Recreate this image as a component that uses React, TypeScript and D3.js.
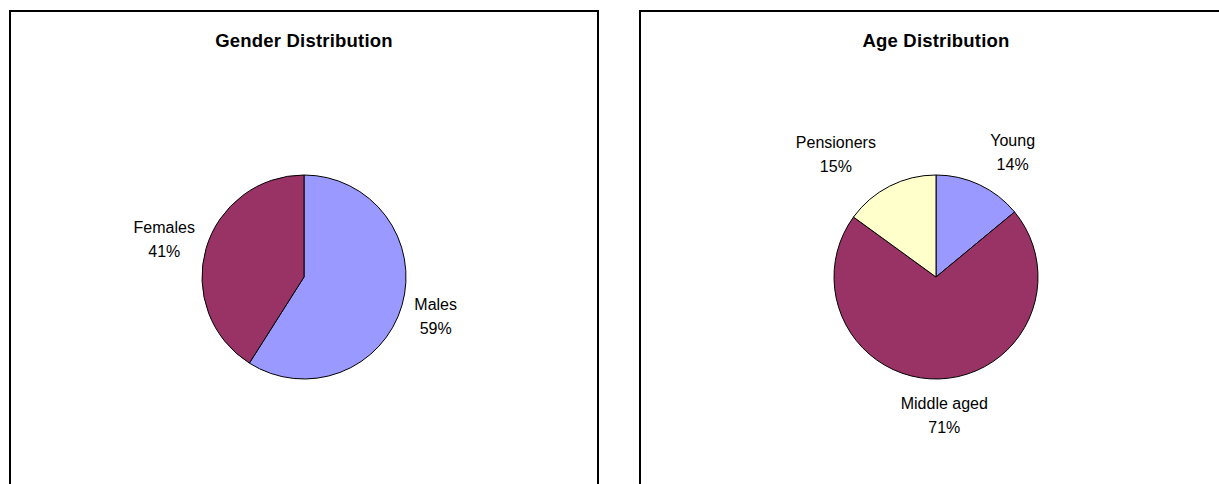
import React from 'react';
import * as d3 from 'd3';

// chart values
const genderLabels = ['Males', 'Females'];
const genderValues = [59, 41];
const ageLabels = ['Young', 'Middle aged', 'Pensioners'];
const ageValues = [14, 71, 15];
const titles = ['Gender Distribution', 'Age Distribution'];

const W = 1219;
const H = 484;
const FONT = '"Liberation Sans", Arial, sans-serif';

const sliceColors = ['#9999FF', '#993366', '#FFFFCC'];

interface PieProps {
  title: string;
  labels: string[];
  values: number[];
  x0: number;
  x1: number;
}

const measure = (s: string) => s.length * 8.1;

const PiePanel: React.FC<PieProps> = ({ title, labels, values, x0, x1 }) => {
  const cx = (x0 + x1) / 2;
  const cy = 277;
  const r = 102;
  const pie = d3.pie<number>().sort(null).value(d => d);
  const arcs = pie(values);
  const arc = d3.arc<d3.PieArcDatum<number>>().innerRadius(0).outerRadius(r);
  const total = d3.sum(values);

  return (
    <g>
      <rect x={x0} y={11} width={x1 - x0} height={H + 20} fill="#fff" stroke="#000" strokeWidth={2} />
      <text x={cx} y={47} textAnchor="middle" fontFamily={FONT} fontWeight="bold" fontSize={18.5} letterSpacing={0.2}>
        {title}
      </text>
      <g transform={`translate(${cx},${cy})`}>
        {arcs.map((a, i) => (
          <path key={i} d={arc(a) || ''} fill={sliceColors[i]} stroke="#000" strokeWidth={1} />
        ))}
        {arcs.map((a, i) => {
          const mid = (a.startAngle + a.endAngle) / 2;
          const s = Math.sin(mid);
          const c = Math.cos(mid);
          const pct = `${Math.round((a.value / total) * 100)}%`;
          const w = Math.max(measure(labels[i]), measure(pct));
          const h = 44;
          const g = 14;
          const k = Math.abs(s) > 0.3 ? Math.sign(s) : s / 0.3;
          // labels near the top sit a little further out sideways
          const lx = s * (r + g) + k * w / 2 + (c > 0.5 ? Math.sign(s) * 7 : 0);
          const ly = -c * (r + g) - c * h / 2;
          return (
            <text key={i} textAnchor="middle" fontFamily={FONT} fontSize={16} fill="#000">
              <tspan x={lx} y={ly - 6}>{labels[i]}</tspan>
              <tspan x={lx} y={ly + 18}>{pct}</tspan>
            </text>
          );
        })}
      </g>
    </g>
  );
};

export default function App() {
  return (
    <svg width={W} height={H} style={{ position: 'absolute', left: 0, top: 0, background: '#fff' }}>
      <rect width={W} height={H} fill="#fff" />
      <PiePanel title={titles[0]} labels={genderLabels} values={genderValues} x0={10} x1={598} />
      <PiePanel title={titles[1]} labels={ageLabels} values={ageValues} x0={640} x1={1232} />
    </svg>
  );
}
